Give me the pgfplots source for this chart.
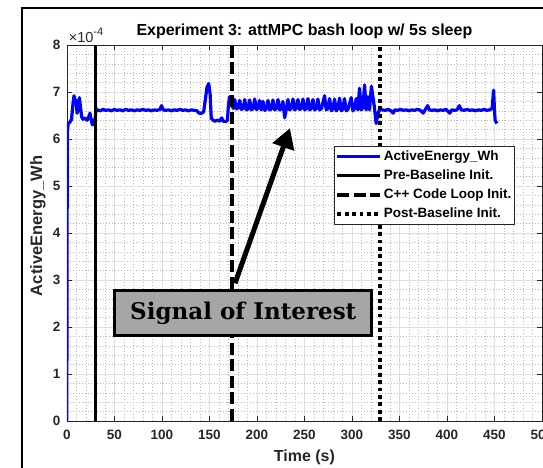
\documentclass[border=0pt]{standalone}
\usepackage{pgfplots}
\pgfplotsset{compat=1.18}
\usepackage{fontspec}
\setmainfont{Liberation Sans}
\newfontfamily\slab{DejaVu Serif}
\usetikzlibrary{arrows.meta}
\definecolor{mblue}{RGB}{0,0,255}
\definecolor{axgray}{RGB}{38,38,38}
\begin{document}
\begin{tikzpicture}
\begin{axis}[
  at={(66.8pt,47pt)}, anchor=south west, scale only axis,
  width=475.2pt, height=376pt,
  xmin=0, xmax=500, ymin=0, ymax=8,
  clip mode=individual,
  xtick={0,50,...,500}, ytick={0,1,...,8},
  minor x tick num=4, minor y tick num=4,
  grid=both,
  major grid style={black!13, line width=0.5pt},
  minor grid style={black!28, line width=0.45pt, dash pattern=on 0.7pt off 2.3pt},
  tick align=inside, major tick length=5pt, minor tick length=0pt,
  axis line style={axgray, line width=0.6pt},
  tick style={axgray, line width=0.6pt},
  /pgf/number format/assume math mode=true,
  ticklabel style={font=\fontsize{13.5}{15}\selectfont\bfseries, text=axgray},
  xticklabel style={yshift=-5.5pt},
  yticklabel style={xshift=-3pt},
  xlabel={Time (s)}, ylabel={ActiveEnergy\_Wh},
  xlabel style={at={(axis description cs:0.5,-0.0957)}, anchor=center, font=\fontsize{16}{18}\selectfont\bfseries, text=axgray},
  ylabel style={at={(axis description cs:-0.0606,0.519)}, anchor=center, font=\fontsize{16.5}{18}\selectfont\bfseries, text=axgray},
  title={Experiment 3: attMPC bash loop w/ 5s sleep},
  title style={at={(axis description cs:0.5,1)}, anchor=south, yshift=-3pt, font=\fontsize{16}{18}\selectfont\bfseries},
  legend style={at={(axis description cs:0.5623,0.7314)}, anchor=north west,
    draw=black!85, line width=0.8pt, fill=white, inner xsep=1pt, inner ysep=2.5pt,
    font=\fontsize{13.5}{15}\selectfont\bfseries,
    nodes={inner sep=1.5pt, text height=10pt, text depth=3pt}, row sep=3pt},
  legend cell align=left,
  legend image code/.code={\draw[#1] (0pt,0pt) -- (43pt,0pt);},
]
\addplot[mblue, line width=3.2pt, line join=round] coordinates {
(0,0)(0.5,6.15)(1.5,6.33)(3,6.35)(5,6.42)(6.5,6.75)(7.6,6.92)(8.6,6.80)(9.7,6.83)
(10.8,6.55)(11.8,6.62)(13.2,6.88)(14.3,6.70)(15.6,6.47)(17,6.42)(18.5,6.45)(20,6.42)
(21.5,6.40)(22.6,6.45)(24.4,6.55)(25.6,6.42)(26.8,6.30)(27.8,6.40)(28.9,6.30)(29.8,6.40)
(30.7,6.65)(32,6.62)(35,6.60)(38,6.63)(41,6.61)(44,6.62)(47,6.60)(50,6.63)(53,6.61)
(56,6.62)(59,6.60)(62,6.63)(65,6.61)(68,6.62)(71,6.60)(74,6.62)(77,6.61)(80,6.63)
(83,6.61)(86,6.62)(89,6.60)(92,6.62)(95,6.61)(98,6.63)(99.7,6.71)(101.5,6.62)(104,6.61)
(107,6.62)(110,6.60)(113,6.62)(116,6.61)(119,6.63)(122,6.61)(125,6.62)(128,6.60)
(131,6.62)(134,6.61)(137,6.60)(139,6.55)(142,6.55)(144,6.58)(145.5,6.80)(147.5,7.10)
(149.3,7.18)(150.8,6.95)(152,6.44)(153.8,6.40)(156,6.38)(158.5,6.40)(161,6.38)
(163,6.45)(164.5,6.38)(167,6.37)(169,6.40)(170,6.70)(171.2,6.90)(172.5,6.80)(174,6.72)
(175.2,6.65)(176.7,6.84)(178.5,6.64)(180.2,6.66)(181.9,6.82)(183.7,6.63)(185.5,6.65)
(187.2,6.84)(189,6.62)(190.7,6.64)(192.4,6.83)(194.2,6.62)(196,6.65)(197.7,6.85)
(199.5,6.63)(201.2,6.65)(202.9,6.82)(204.6,6.62)(206.4,6.80)(208.2,6.61)(210,6.64)
(211.7,6.82)(213.5,6.62)(215.2,6.64)(216.9,6.83)(218.7,6.62)(220.5,6.65)(222.2,6.84)
(224,6.62)(225.7,6.64)(227.4,6.80)(229.2,6.45)(231,6.64)(232.7,6.84)(234.5,6.62)
(236.2,6.65)(238,6.85)(239.8,6.62)(241.5,6.65)(243.2,6.84)(245,6.63)(246.8,6.65)
(248.5,6.85)(250.3,6.62)(252,6.65)(253.7,6.86)(255.5,6.62)(257.2,6.65)(259,6.84)
(260.8,6.62)(262.5,6.65)(264.2,6.85)(266,6.62)(268,6.65)(271.2,6.92)(273,6.62)
(274.8,6.65)(276.5,6.86)(278.3,6.60)(280,6.64)(281.7,6.85)(283.5,6.60)(285.2,6.64)
(287,6.87)(288.8,6.60)(290.5,6.64)(292.2,6.86)(294,6.60)(296,6.64)(299.2,6.88)
(301,6.60)(302.8,6.65)(304.5,6.86)(306.2,6.62)(308,7.08)(309.8,6.62)(311.5,6.66)
(313.3,7.15)(315,6.62)(316.8,6.90)(318.5,6.62)(320.5,7.12)(323.5,6.70)(325.5,6.33)
(327,6.50)(329,6.63)(332,6.62)(335,6.61)(338,6.63)(341,6.60)(343.5,6.55)(345,6.62)
(348,6.61)(351,6.63)(354,6.61)(357,6.62)(360,6.60)(363,6.62)(366,6.61)(369,6.63)
(372,6.61)(375,6.55)(377,6.62)(379.7,6.71)(381.5,6.62)(384,6.61)(387,6.62)(390,6.60)
(393,6.62)(396,6.61)(399,6.63)(403,6.55)(405,6.62)(408,6.61)(410.5,6.62)(413,6.71)
(415,6.62)(418,6.61)(421,6.63)(424,6.61)(427,6.62)(430,6.60)(433,6.62)(436,6.61)
(439,6.63)(442,6.61)(445,6.62)(447.5,6.65)(449.1,7.04)(450,6.60)(450.7,6.40)(452.5,6.33)
};
\addlegendentry{ActiveEnergy\_Wh}
\addplot[black, line width=3pt] coordinates {(30.5,0)(30.5,8)};
\addlegendentry{Pre-Baseline Init.}
\addplot[black, line width=4pt, dash pattern=on 12pt off 4.5pt] coordinates {(174,0)(174,8)};
\addlegendentry{C++ Code Loop Init.}
\addplot[black, line width=3.8pt, dash pattern=on 3.8pt off 3.6pt] coordinates {(329.5,0)(329.5,8)};
\addlegendentry{Post-Baseline Init.}
\node[draw=black, line width=3pt, fill=black!35, minimum width=257pt, minimum height=45pt, inner sep=0pt,
  font=\slab\bfseries\fontsize{23}{26}\selectfont] at (axis cs:185.7,2.30) {Signal of Interest};
\draw[line width=5pt, -{Triangle[length=20pt,width=22pt]}] (axis cs:177,2.93) -- (axis cs:234.8,6.23);
\node[anchor=south west, font=\fontsize{14.5}{16}\selectfont, text=axgray, inner sep=0pt] at (axis description cs:0.004,1.006) {×10\raisebox{0.5em}{\fontsize{11}{11}\selectfont -4}};
\end{axis}
\draw[line width=2pt] (22pt,-20pt) -- (22pt,460pt) -- (600pt,460pt);
\pgfresetboundingbox
\useasboundingbox (0,0) rectangle (543pt,468pt);
\end{tikzpicture}
\end{document}
